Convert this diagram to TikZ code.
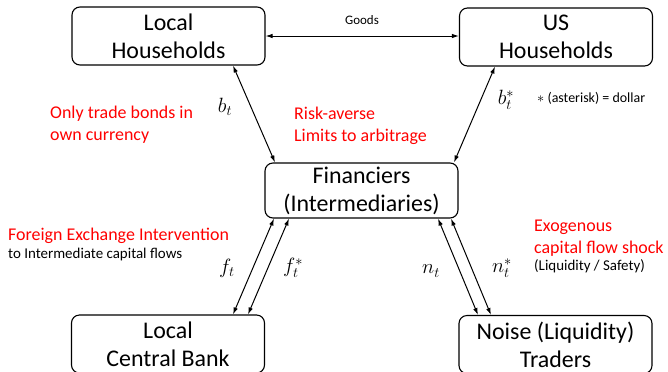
\documentclass[tikz,border=0pt]{standalone}
\usepackage{amsmath}
\usepackage{fontspec}
\setmainfont{Carlito}
\usepackage{tikz}
\usetikzlibrary{calc,arrows.meta}

\begin{document}
\begin{tikzpicture}[x=1bp,y=-1bp,>={Latex[length=7bp,width=4.5bp]},
  agent/.style={draw,rounded corners=8bp,line width=1.1bp,minimum width=193bp,
    minimum height=58bp,inner sep=0pt,align=center,font=\fontsize{24}{28}\selectfont},
  flow/.style={<->,line width=1bp},
  sym/.style={font=\fontsize{22}{26}\selectfont},
  note/.style={red,anchor=north west,inner sep=0pt,align=left,font=\fontsize{18}{22}\selectfont},
  small/.style={anchor=base west,inner sep=0pt,font=\fontsize{15}{18}\selectfont}]
\useasboundingbox (0,0) rectangle (668,371);

\node[agent] (lh) at (168.5,36) {Local\\Households};
\node[agent] (us) at (556,37) {US\\Households};
\node[agent,minimum height=55bp] (fin) at (361.5,190.5) {Financiers\\(Intermediaries)};
\node[agent] (cb) at (168,344) {Local\\Central Bank};
\node[agent] (nt) at (555.5,344.5) {Noise (Liquidity)\\Traders};

\draw[flow] (lh.east) -- (lh.east -| us.west);
\node[font=\fontsize{13}{15}\selectfont] (goods) at (362,20) {Goods};

\draw[flow] ($(lh.south)+(64.5,0)$) -- ($(fin.north)+(-86.5,0)$);
\draw[flow] ($(us.south)+(-61,0)$) -- ($(fin.north)+(92.5,0)$);
\node[sym] (b) at (225,107) {$b_t$};
\node[sym] (bs) at (506,100) {$b_t^*$};
\node[small,font=\fontsize{14}{16}\selectfont] (dollar) at (537,102) {$\ast$ (asterisk) = dollar};

\draw[flow] ($(cb.north)+(65,0)$) -- ($(fin.south)+(-87.5,0)$);
\draw[flow] ($(cb.north)+(80,0)$) -- ($(fin.south)+(-72.5,0)$);
\node[sym] (f) at (227,268) {$f_t$};
\node[sym] (fs) at (293,268) {$f_t^*$};

\draw[flow] ($(fin.south)+(76.5,0)$) -- ($(nt.north)+(-77.5,0)$);
\draw[flow] ($(fin.south)+(89.5,0)$) -- ($(nt.north)+(-64.5,0)$);
\node[sym] (n) at (431,271) {$n_t$};
\node[sym] (ns) at (502,268) {$n_t^*$};

\node[note] (bonds) at (50,105.5) {Only trade bonds in\\own currency};
\node[note] (risk) at (294,106.5) {Risk-averse\\Limits to arbitrage};
\node[note] (fxi) at (8,227.5) {Foreign Exchange Intervention};
\node[small] (fxi2) at (8,258) {to Intermediate capital flows};
\node[note] (shock) at (534,219.5) {Exogenous\\capital flow shock};
\node[small] (shock2) at (534,270) {(Liquidity / Safety)};
\end{tikzpicture}
\end{document}
